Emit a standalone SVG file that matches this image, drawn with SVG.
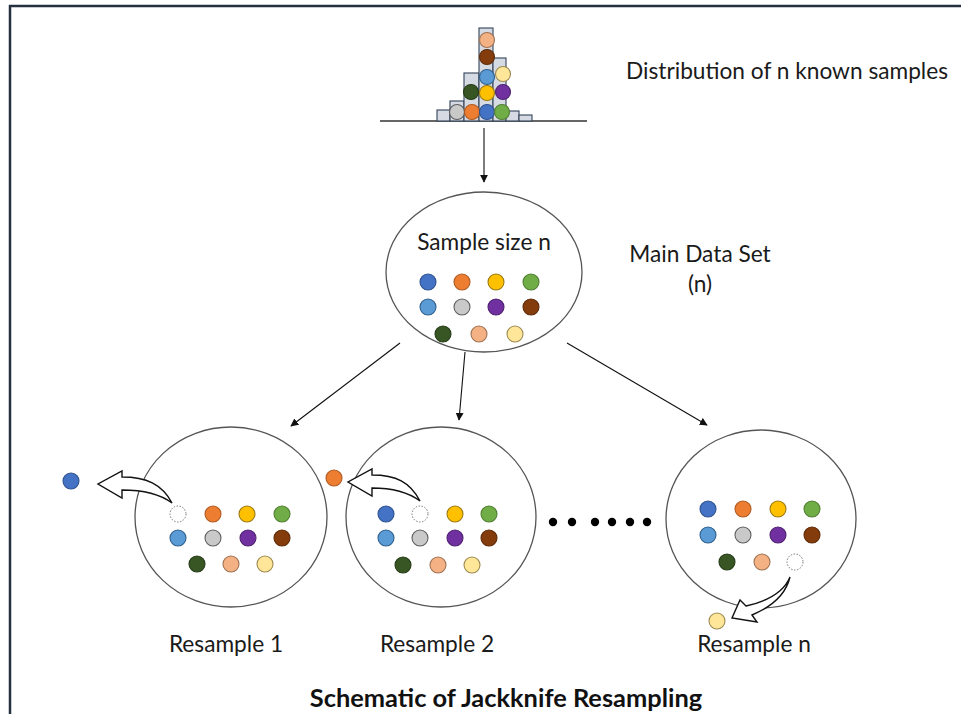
<svg xmlns="http://www.w3.org/2000/svg" width="961" height="714" viewBox="0 0 961 714">
<style>
.lbl{font-family:Lato,"Liberation Sans",sans-serif;font-size:22.7px;fill:#1a1a1a}
.ttl{font-family:Lato,"Liberation Sans",sans-serif;font-size:25.4px;font-weight:bold;fill:#111}
.big{fill:#fff;stroke:#555;stroke-width:1.3}
.bar{fill:#d6dbe3;stroke:#34425a;stroke-width:1.1}
.conn{stroke:#111;stroke-width:1.1;fill:none}
.blk{fill:#fff;stroke:#111;stroke-width:1.4;stroke-linejoin:miter}
.gone{fill:#fff;stroke:#777;stroke-width:1;stroke-dasharray:1.5 1.5}
.dot{stroke-width:1.1}
.c1{fill:#4472c4;stroke:#2f528f}
.c2{fill:#ed7d31;stroke:#ae5a21}
.c3{fill:#ffc000;stroke:#9c7a10}
.c4{fill:#70ad47;stroke:#507e32}
.c5{fill:#5b9bd5;stroke:#2f5f8c}
.c6{fill:#c9c9c9;stroke:#5e5e5e}
.c7{fill:#7030a0;stroke:#4f2270}
.c8{fill:#843c0c;stroke:#5e2b08}
.c9{fill:#375623;stroke:#263c18}
.c10{fill:#f4b183;stroke:#9e7252}
.c11{fill:#ffe699;stroke:#9c8a50}
</style>
<defs>
<marker id="ah" viewBox="0 0 10 10" refX="9" refY="5" markerWidth="8" markerHeight="8" markerUnits="userSpaceOnUse" orient="auto">
<path d="M0,0 L10,5 L0,10 Z" fill="#111"/>
</marker>
</defs>
<rect width="961" height="714" fill="#fff"/>
<g id="frame" stroke="#243240" stroke-width="2.5" fill="none">
<line x1="9" y1="6" x2="961" y2="6"/>
<line x1="10" y1="5" x2="10" y2="714"/>
</g>

<g id="distribution">
<line x1="380" y1="121" x2="587" y2="121" stroke="#333" stroke-width="1.3"/>
<rect class="bar" x="437" y="110" width="13" height="11"/>
<rect class="bar" x="450" y="101" width="14" height="20"/>
<rect class="bar" x="464" y="73" width="15" height="48"/>
<rect class="bar" x="479" y="28" width="14" height="93"/>
<rect class="bar" x="493" y="58" width="13" height="63"/>
<rect class="bar" x="506" y="111" width="13" height="10"/>
<rect class="bar" x="519" y="115" width="13" height="6"/>
<circle class="dot c6" cx="457" cy="112" r="7.5"/>
<circle class="dot c2" cx="472" cy="112" r="7.5"/>
<circle class="dot c1" cx="487" cy="112" r="7.5"/>
<circle class="dot c4" cx="502" cy="112" r="7.5"/>
<circle class="dot c9" cx="471" cy="92" r="7.5"/>
<circle class="dot c3" cx="487" cy="93" r="7.5"/>
<circle class="dot c7" cx="503" cy="92" r="7.5"/>
<circle class="dot c5" cx="487" cy="77" r="7.5"/>
<circle class="dot c11" cx="503" cy="74" r="7.5"/>
<circle class="dot c8" cx="487" cy="57" r="7.5"/>
<circle class="dot c10" cx="487" cy="40" r="7.5"/>
<text class="lbl" x="626" y="79">Distribution of n known samples</text>
</g>

<g id="main">
<ellipse class="big" cx="484" cy="272" rx="98" ry="80"/>
<text class="lbl" x="484" y="250" text-anchor="middle">Sample size n</text>
<circle class="dot c1" cx="428" cy="282" r="8"/>
<circle class="dot c2" cx="462" cy="282" r="8"/>
<circle class="dot c3" cx="496" cy="282" r="8"/>
<circle class="dot c4" cx="531" cy="282" r="8"/>
<circle class="dot c5" cx="428" cy="307" r="8"/>
<circle class="dot c6" cx="462" cy="307" r="8"/>
<circle class="dot c7" cx="496" cy="307" r="8"/>
<circle class="dot c8" cx="531" cy="307" r="8"/>
<circle class="dot c9" cx="443" cy="334" r="8"/>
<circle class="dot c10" cx="479" cy="334" r="8"/>
<circle class="dot c11" cx="515" cy="334" r="8"/>
</g>

<g id="main-label">
<text class="lbl" x="700" y="262" text-anchor="middle">Main Data Set</text>
<text class="lbl" x="700" y="292" text-anchor="middle">(n)</text>
</g>

<g id="resample1">
<ellipse class="big" cx="231" cy="517" rx="96" ry="90"/>
<circle class="gone" cx="178" cy="514" r="8"/>
<circle class="dot c2" cx="213" cy="514" r="8"/>
<circle class="dot c3" cx="247" cy="514" r="8"/>
<circle class="dot c4" cx="282" cy="514" r="8"/>
<circle class="dot c5" cx="178" cy="538" r="8"/>
<circle class="dot c6" cx="213" cy="538" r="8"/>
<circle class="dot c7" cx="248" cy="538" r="8"/>
<circle class="dot c8" cx="282" cy="538" r="8"/>
<circle class="dot c9" cx="197" cy="564" r="8"/>
<circle class="dot c10" cx="231" cy="564" r="8"/>
<circle class="dot c11" cx="265" cy="564" r="8"/>
<circle class="dot c1" cx="71" cy="481" r="8"/>
<path class="blk" d="M172,503 C162,484 146,477 122,477 L122,471 L98,484 L122,498 L122,490 C142,490 160,494 172,503 Z"/>
<text class="lbl" x="226" y="652" text-anchor="middle">Resample 1</text>
</g>

<g id="resample2">
<ellipse class="big" cx="441" cy="517" rx="95" ry="90"/>
<circle class="dot c1" cx="386" cy="514" r="8"/>
<circle class="gone" cx="420" cy="514" r="8"/>
<circle class="dot c3" cx="455" cy="514" r="8"/>
<circle class="dot c4" cx="489" cy="514" r="8"/>
<circle class="dot c5" cx="386" cy="538" r="8"/>
<circle class="dot c6" cx="420" cy="538" r="8"/>
<circle class="dot c7" cx="455" cy="538" r="8"/>
<circle class="dot c8" cx="489" cy="538" r="8"/>
<circle class="dot c9" cx="403" cy="565" r="8"/>
<circle class="dot c10" cx="438" cy="565" r="8"/>
<circle class="dot c11" cx="472" cy="565" r="8"/>
<circle class="dot c2" cx="334" cy="478" r="8"/>
<path class="blk" d="M420,501 C410,482 396,475 372,475 L372,469 L348,482 L372,496 L372,488 C392,488 408,492 420,501 Z"/>
<text class="lbl" x="437" y="652" text-anchor="middle">Resample 2</text>
</g>

<g id="ellipsis" fill="#000">
<circle cx="553" cy="522" r="4.2"/>
<circle cx="572" cy="522" r="4.2"/>
<circle cx="595" cy="522" r="4.2"/>
<circle cx="612" cy="522" r="4.2"/>
<circle cx="630" cy="522" r="4.2"/>
<circle cx="647" cy="522" r="4.2"/>
</g>

<g id="resamplen">
<ellipse class="big" cx="761" cy="519" rx="95" ry="89"/>
<circle class="dot c1" cx="708" cy="509" r="8"/>
<circle class="dot c2" cx="743" cy="509" r="8"/>
<circle class="dot c3" cx="778" cy="509" r="8"/>
<circle class="dot c4" cx="812" cy="509" r="8"/>
<circle class="dot c5" cx="708" cy="535" r="8"/>
<circle class="dot c6" cx="743" cy="535" r="8"/>
<circle class="dot c7" cx="778" cy="535" r="8"/>
<circle class="dot c8" cx="812" cy="535" r="8"/>
<circle class="dot c9" cx="727" cy="562" r="8"/>
<circle class="dot c10" cx="762" cy="562" r="8"/>
<circle class="gone" cx="795" cy="562" r="8"/>
<circle class="dot c11" cx="717" cy="621" r="8"/>
<path class="blk" d="M790,577 C784,592 768,601 746,606 L740,600 L732,618 L757,622 L752,615 C771,607 786,594 790,577 Z"/>
<text class="lbl" x="754" y="652" text-anchor="middle">Resample n</text>
</g>

<g id="connectors" class="conn">
<line x1="484" y1="128" x2="484" y2="182" marker-end="url(#ah)"/>
<line x1="400" y1="343" x2="291" y2="426" marker-end="url(#ah)"/>
<line x1="465" y1="352" x2="459" y2="420" marker-end="url(#ah)"/>
<line x1="567" y1="343" x2="707" y2="425" marker-end="url(#ah)"/>
</g>

<g id="title">
<text class="ttl" x="506" y="707" text-anchor="middle">Schematic of Jackknife Resampling</text>
</g>
</svg>
